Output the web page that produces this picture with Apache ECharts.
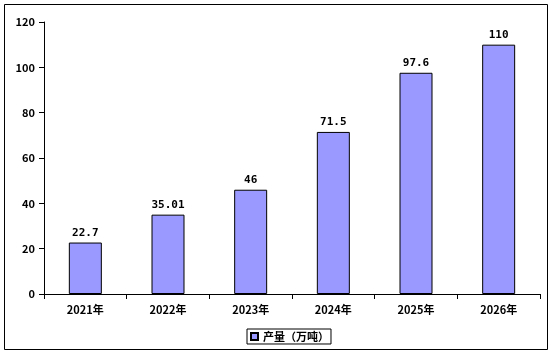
<!DOCTYPE html>
<html><head><meta charset="utf-8">
<script src="https://cdn.jsdelivr.net/npm/echarts@6/dist/echarts.min.js"></script>
<style>html,body{margin:0;padding:0;background:#fff}#c{width:554px;height:355px}</style>
</head><body><div id="c"></div>
<script>
const categories = ['2021年','2022年','2023年','2024年','2025年','2026年'];
const values = [22.7, 35.01, 46, 71.5, 97.6, 110];
const valueLabels = ['22.7','35.01','46','71.5','97.6','110'];
const seriesName = '产量（万吨）';
const font = '"Noto Sans CJK SC", "DejaVu Sans", sans-serif';
const mono = '"DejaVu Sans Mono", "Liberation Mono", monospace';
const chart = echarts.init(document.getElementById('c'));
chart.setOption({
  animation: false,
  backgroundColor: '#fff',
  graphic: [{type:'rect', shape:{x:4.5,y:4.5,width:543,height:345}, style:{fill:'none',stroke:'#000',lineWidth:1}, silent:true}],
  grid: {left:44, right:14, top:22, bottom:61, containLabel:false},
  legend: {
    data:[seriesName], top:329, left:247,
    borderColor:'#000', borderWidth:1, borderRadius:0, padding:[2,2,2,3],
    itemWidth:7, itemHeight:7, itemGap:4,
    textStyle:{fontFamily:font, fontSize:11, fontWeight:'bold', color:'#000'},
    icon:'rect'
  },
  xAxis: {
    type:'category', data:categories,
    axisLine:{lineStyle:{color:'#000',width:1}},
    axisTick:{show:true, alignWithLabel:false, length:5, lineStyle:{color:'#000'}},
    axisLabel:{fontFamily:font, fontSize:11, fontWeight:'bold', color:'#000', margin:10}
  },
  yAxis: {
    type:'value', min:0, max:120, interval:20,
    axisLine:{show:true, lineStyle:{color:'#000',width:1}},
    axisTick:{show:true, length:5, lineStyle:{color:'#000'}},
    splitLine:{show:false},
    axisLabel:{fontFamily:font, fontSize:11, fontWeight:'bold', color:'#000', margin:9}
  },
  series: [{
    name: seriesName, type:'bar', data: values, barWidth:33,
    itemStyle:{color:'#9999ff', borderColor:'#000', borderWidth:1},
    label:{show:true, position:'top', distance:4, fontFamily:mono, fontSize:11, fontWeight:'bold', color:'#000',
      formatter: p => valueLabels[p.dataIndex]}
  }]
});
</script></body></html>
